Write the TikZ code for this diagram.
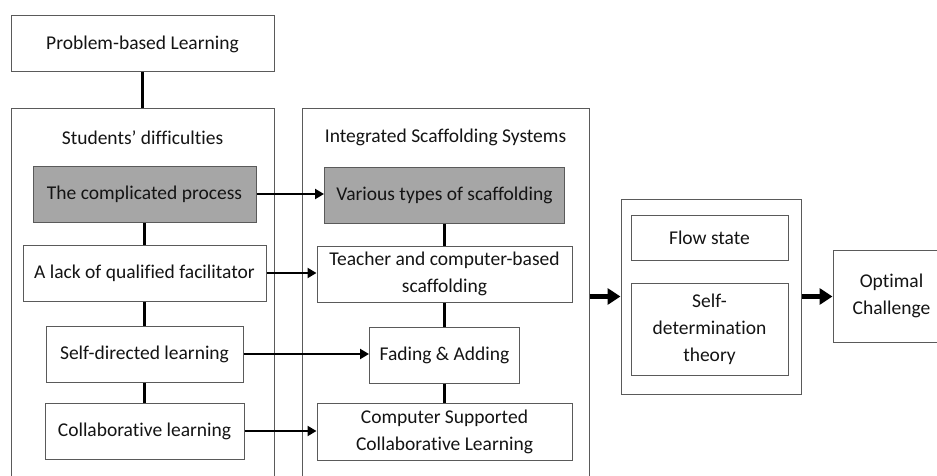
\documentclass[tikz,border=0pt]{standalone}
\usepackage{fontspec}
\setmainfont{Carlito}[Ligatures=NoCommon]
\usetikzlibrary{arrows.meta}
\definecolor{boxgray}{HTML}{5A5A5A}
\definecolor{fillgray}{HTML}{A6A6A6}
\definecolor{txt}{HTML}{141414}
\begin{document}
\begin{tikzpicture}[x=1pt,y=-1pt,
  box/.style={draw=boxgray, line width=1pt, fill=white, inner sep=0pt, align=center, text=txt, font=\fontsize{19.5}{27}\selectfont},
  graybox/.style={box, fill=fillgray},
  lbl/.style={inner sep=0pt, text=txt, font=\fontsize{19.5}{27}\selectfont},
  conn/.style={line width=2.8pt},
  arr/.style={line width=2.8pt, -{Triangle[length=9pt,width=10pt]}},
  bigarr/.style={line width=5.5pt, -{Triangle[length=13pt,width=16pt]}}
]
\useasboundingbox (0,0) rectangle (937,476);
\clip (0,0) rectangle (937,476);

% left column
\node[box, minimum width=263pt, minimum height=56pt] (pbl) at (142.5,44) {Problem-based Learning};
\node[box, minimum width=263pt, minimum height=411pt] (stud) at (142.5,314.5) {};
\node[lbl] (studl) at (142.5,138) {Students’ difficulties};
\node[graybox, minimum width=223pt, minimum height=56pt] (compl) at (144.5,194) {The complicated process};
\node[box, minimum width=243pt, minimum height=56pt] (lack) at (144.5,273) {A lack of qualified facilitator};
\node[box, minimum width=197pt, minimum height=56pt] (selfdir) at (144.5,354) {Self-directed learning};
\node[box, minimum width=199pt, minimum height=56pt] (collab) at (144.5,431) {Collaborative learning};

% middle column
\node[box, minimum width=287pt, minimum height=411pt] (integ) at (445.5,314.5) {};
\node[lbl] (integl) at (445.5,137) {Integrated Scaffolding Systems};
\node[graybox, minimum width=240pt, minimum height=56pt] (var) at (444.5,195) {Various types of scaffolding};
\node[box, minimum width=255pt, minimum height=56pt] (teach) at (444.5,274) {Teacher and computer-based\\scaffolding};
\node[box, minimum width=150pt, minimum height=56pt] (fad) at (444.5,355) {Fading \& Adding};
\node[box, minimum width=255pt, minimum height=57pt] (cscl) at (444.5,431.5) {Computer Supported\\Collaborative Learning};

% right
\node[box, minimum width=180pt, minimum height=195pt] (flow) at (711,296.5) {};
\node[box, minimum width=157pt, minimum height=45pt] (fstate) at (709.5,237.5) {Flow state};
\node[box, minimum width=157pt, minimum height=92pt] (sdt) at (709.5,329) {Self-\\determination\\theory};
\node[box, minimum width=117pt, minimum height=92pt] (opt) at (891.5,296) {Optimal\\Challenge};

% vertical connectors
\draw[conn] (pbl.south) -- (stud.north);
\draw[conn] (compl.south) -- (lack.north);
\draw[conn] (lack.south) -- (selfdir.north);
\draw[conn] (selfdir.south) -- (collab.north);
\draw[conn] (var.south) -- (teach.north);
\draw[conn] (teach.south) -- (fad.north);
\draw[conn] (fad.south) -- (cscl.north);

% horizontal arrows
\draw[arr] (compl.east) -- (compl.east -| var.west);
\draw[arr] (lack.east) -- (lack.east -| teach.west);
\draw[arr] (selfdir.east) -- (selfdir.east -| fad.west);
\draw[arr] (collab.east) -- (collab.east -| cscl.west);
\draw[bigarr] (flow.west -| integ.east) -- (flow.west);
\draw[bigarr] (flow.east) -- (flow.east -| opt.west);
\end{tikzpicture}
\end{document}
